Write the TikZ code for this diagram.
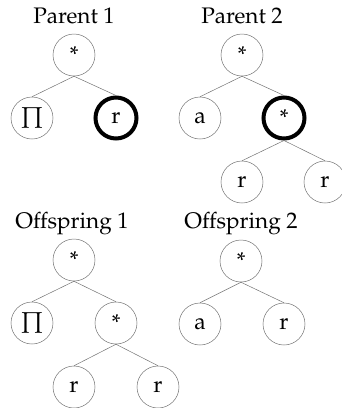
\documentclass[tikz,border=0pt]{standalone}
\usepackage[T1]{fontenc}
\usepackage{mathpazo}
\begin{document}
\begin{tikzpicture}[x=1pt,y=-1pt,
  treenode/.style={circle,draw=black!55,line width=0.5pt,minimum size=42pt,inner sep=0pt,
    font=\fontsize{23}{27}\selectfont},
  chosen/.style={draw=black,line width=4pt,minimum size=41pt},
  title/.style={anchor=base,font=\fontsize{22.5}{27}\selectfont,inner sep=0pt},
  branch/.style={draw=black!55,line width=0.5pt}]
\useasboundingbox (0,0) rectangle (342,408);

% Parent 1
\node[title] (t1) at (74,23) {Parent 1};
\node[treenode] (p1r) at (74,55) {*};
\node[treenode] (p1a) at (32,118) {$\prod$};
\node[treenode,chosen] (p1b) at (116,118) {r};
\draw[branch] (p1r.south) -- (p1a.north);
\draw[branch] (p1r.south) -- (p1b.north);

% Parent 2
\node[title] (t2) at (242,23) {Parent 2};
\node[treenode] (p2r) at (242,55) {*};
\node[treenode] (p2a) at (200,118) {a};
\node[treenode,chosen] (p2b) at (284,118) {*};
\node[treenode] (p2c) at (242,182) {r};
\node[treenode] (p2d) at (325,182) {r};
\draw[branch] (p2r.south) -- (p2a.north);
\draw[branch] (p2r.south) -- (p2b.north);
\draw[branch] (p2b.south) -- (p2c.north);
\draw[branch] (p2b.south) -- (p2d.north);

% Offspring 1
\node[title] (t3) at (72,228) {Offspring 1};
\node[treenode] (o1r) at (74,260) {*};
\node[treenode] (o1a) at (32,323) {$\prod$};
\node[treenode] (o1b) at (116,323) {*};
\node[treenode] (o1c) at (74,387) {r};
\node[treenode] (o1d) at (158,387) {r};
\draw[branch] (o1r.south) -- (o1a.north);
\draw[branch] (o1r.south) -- (o1b.north);
\draw[branch] (o1b.south) -- (o1c.north);
\draw[branch] (o1b.south) -- (o1d.north);

% Offspring 2
\node[title] (t4) at (241,228) {Offspring 2};
\node[treenode] (o2r) at (241,261) {*};
\node[treenode] (o2a) at (200,324) {a};
\node[treenode] (o2b) at (284,324) {r};
\draw[branch] (o2r.south) -- (o2a.north);
\draw[branch] (o2r.south) -- (o2b.north);
\end{tikzpicture}
\end{document}
